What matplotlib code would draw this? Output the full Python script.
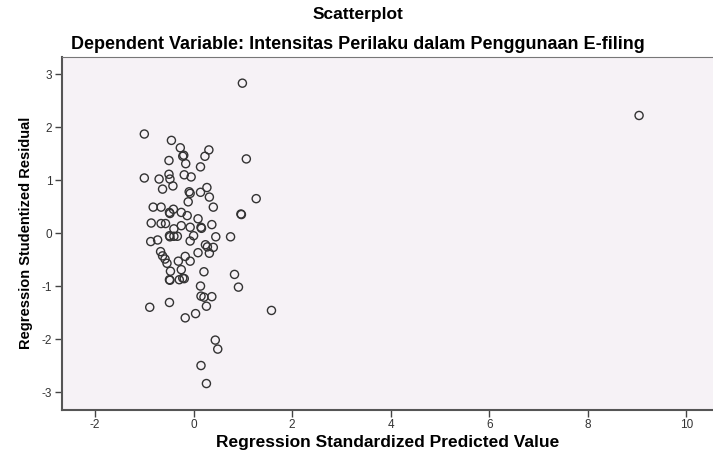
import matplotlib
matplotlib.use("Agg")
import matplotlib.pyplot as plt

plt.rcParams["font.family"] = ["Liberation Sans", "DejaVu Sans"]
plt.rcParams["axes.unicode_minus"] = False

# Regression standardized predicted value (x) and studentized residual (y)
predicted = [
    0.99, 9.04, -1.00, -0.45, -0.27, 0.31, -0.20, -0.22, 0.23, -0.50,
    -0.16, 1.07, 0.14, -1.00, -0.70, -0.50, -0.48, -0.19, -0.05, -0.42,
    -0.63, -0.09, -0.07, 0.14, 0.27, 0.32, 1.27, -0.11, 0.40, -0.82,
    -0.66, -0.49, -0.48, -0.41, -0.25, -0.13, 0.09, 0.96, 0.97, -0.86,
    -0.66, -0.57, -0.40, -0.25, -0.07, 0.15, 0.16, 0.37, -0.49, -0.48,
    -0.40, -0.33, 0.00, 0.45, 0.75, -0.87, -0.73, -0.07, 0.24, 0.28,
    0.40, -0.67, -0.63, -0.58, -0.54, -0.31, -0.17, -0.07, 0.09, 0.32,
    -0.47, -0.25, 0.21, 0.83, -0.49, -0.48, -0.29, -0.22, -0.19, 0.14,
    0.91, 0.15, 0.21, 0.37, -0.89, -0.49, 0.26, 0.04, -0.17, 1.58,
    0.44, 0.49, 0.15, 0.26,
]
residual = [
    2.83, 2.22, 1.87, 1.75, 1.61, 1.57, 1.47, 1.45, 1.45, 1.37,
    1.31, 1.40, 1.25, 1.04, 1.02, 1.11, 1.02, 1.10, 1.06, 0.89,
    0.83, 0.78, 0.75, 0.77, 0.86, 0.68, 0.65, 0.59, 0.49, 0.49,
    0.49, 0.39, 0.37, 0.45, 0.39, 0.33, 0.27, 0.36, 0.35, 0.19,
    0.18, 0.18, 0.08, 0.14, 0.11, 0.11, 0.09, 0.16, -0.05, -0.07,
    -0.06, -0.06, -0.05, -0.07, -0.07, -0.16, -0.13, -0.15, -0.22, -0.26,
    -0.27, -0.35, -0.43, -0.49, -0.57, -0.53, -0.44, -0.53, -0.37, -0.38,
    -0.72, -0.69, -0.73, -0.78, -0.88, -0.89, -0.88, -0.85, -0.86, -1.00,
    -1.02, -1.19, -1.21, -1.20, -1.40, -1.31, -1.38, -1.52, -1.60, -1.46,
    -2.02, -2.19, -2.50, -2.84,
]

x_ticks = [-2, 0, 2, 4, 6, 8, 10]
y_ticks = [-3, -2, -1, 0, 1, 2, 3]

fig = plt.figure(figsize=(7.13, 4.54), dpi=100)
ax = fig.add_axes([0.087, 0.098, 0.913, 0.776])
ax.set_facecolor("#F6F2F6")

ax.scatter(predicted, residual, s=34, facecolors="none",
           edgecolors="#333333", linewidths=1.0)

ax.set_xlim(-2.67, 10.54)
ax.set_ylim(-3.33, 3.32)
ax.set_xticks(x_ticks)
ax.set_yticks(y_ticks)
ax.tick_params(direction="out", length=5, width=1, color="#444444",
               labelsize=8.5, labelcolor="#333333", pad=2)

for side in ["left", "bottom"]:
    ax.spines[side].set_color("#555555")
    ax.spines[side].set_linewidth(1.5)
ax.spines["top"].set_color("#777777")
ax.spines["top"].set_linewidth(0.8)
ax.spines["right"].set_visible(False)

ax.set_xlabel("Regression Standardized Predicted Value", fontsize=12.5,
              fontweight="bold", labelpad=3)
ax.set_ylabel("Regression Studentized Residual", fontsize=10.5,
              fontweight="bold", labelpad=6)

fig.text(0.502, 0.967, "Scatterplot", ha="center", va="center",
         fontsize=12.5, fontweight="bold")
fig.text(0.502, 0.901,
         "Dependent Variable: Intensitas Perilaku dalam Penggunaan E-filing",
         ha="center", va="center", fontsize=13, fontweight="bold")

fig.savefig("out.png", dpi=100)
